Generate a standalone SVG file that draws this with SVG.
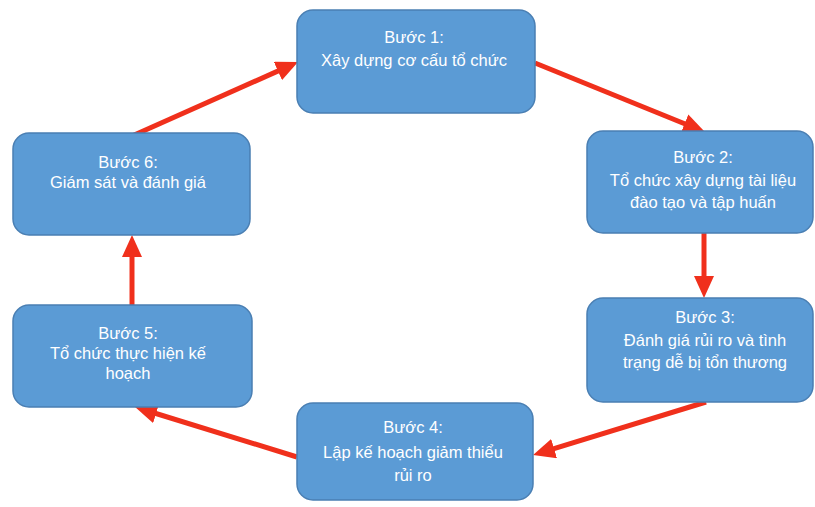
<svg xmlns="http://www.w3.org/2000/svg" width="815" height="507" viewBox="0 0 815 507">
<defs>
<marker id="ah" markerUnits="userSpaceOnUse" markerWidth="22" markerHeight="20" refX="12" refY="10" orient="auto">
<path d="M0,0 L22,10 L0,20 z" fill="#f0301c"/>
</marker>
<style>
.box{fill:#5b9bd5;stroke:#4a7fb3;stroke-width:1.5}
.t{font-family:"Liberation Sans",Arial,sans-serif;font-size:16.5px;fill:#ffffff;text-anchor:middle}
.c{stroke:#f0301c;stroke-width:5;fill:none;marker-end:url(#ah)}
</style>
</defs>
<rect width="815" height="507" fill="#ffffff"/>
<g id="connectors">
<line class="c" x1="535" y1="63" x2="695.7" y2="128.2"/>
<line class="c" x1="704" y1="233" x2="704" y2="288"/>
<line class="c" x1="706" y1="402" x2="542.6" y2="452.1"/>
<line class="c" x1="297" y1="457" x2="144.6" y2="410"/>
<line class="c" x1="132" y1="305" x2="132" y2="245"/>
<line class="c" x1="132" y1="136" x2="288.9" y2="66.1"/>
</g>
<g id="step1">
<rect class="box" x="297" y="10" width="238" height="103" rx="16"/>
<text class="t" x="414" y="43">Bước 1:</text>
<text class="t" x="414" y="66">Xây dựng cơ cấu tổ chức</text>
</g>
<g id="step2">
<rect class="box" x="587" y="131" width="226" height="102" rx="16"/>
<text class="t" x="703" y="163">Bước 2:</text>
<text class="t" x="703" y="186">Tổ chức xây dựng tài liệu</text>
<text class="t" x="703" y="208">đào tạo và tập huấn</text>
</g>
<g id="step3">
<rect class="box" x="587" y="298" width="226" height="104" rx="16"/>
<text class="t" x="705" y="323">Bước 3:</text>
<text class="t" x="705" y="346">Đánh giá rủi ro và tình</text>
<text class="t" x="705" y="368">trạng dễ bị tổn thương</text>
</g>
<g id="step4">
<rect class="box" x="297" y="403" width="236" height="97" rx="16"/>
<text class="t" x="413" y="433">Bước 4:</text>
<text class="t" x="413" y="458">Lập kế hoạch giảm thiểu</text>
<text class="t" x="413" y="481">rủi ro</text>
</g>
<g id="step5">
<rect class="box" x="13" y="305" width="239" height="102" rx="16"/>
<text class="t" x="128" y="339">Bước 5:</text>
<text class="t" x="128" y="359">Tổ chức thực hiện kế</text>
<text class="t" x="128" y="379">hoạch</text>
</g>
<g id="step6">
<rect class="box" x="13" y="133" width="237" height="102" rx="16"/>
<text class="t" x="128" y="168">Bước 6:</text>
<text class="t" x="128" y="188">Giám sát và đánh giá</text>
</g>
</svg>
